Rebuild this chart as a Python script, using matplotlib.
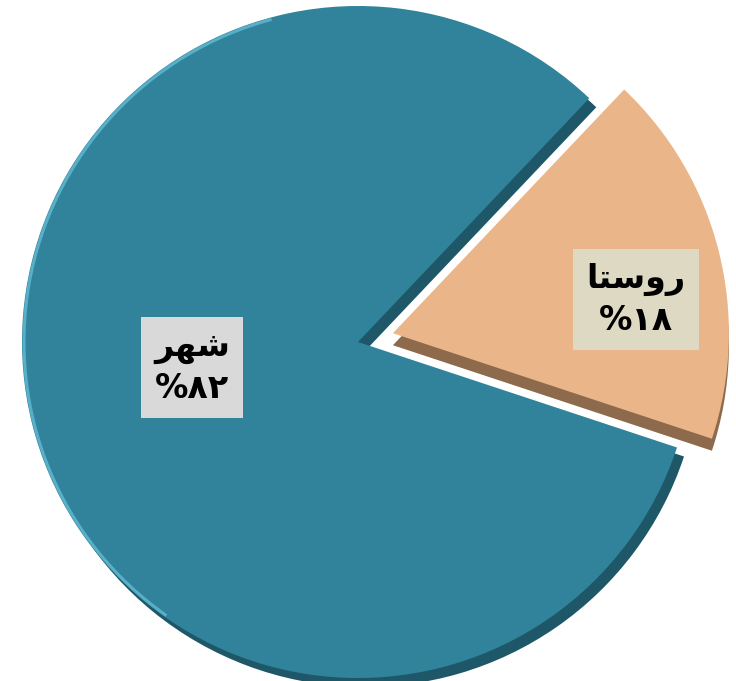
import matplotlib
matplotlib.use("Agg")
import matplotlib.pyplot as plt
from matplotlib.patches import Wedge, Arc

# Category names in Arabic presentation forms, laid out left-to-right,
# since matplotlib does not shape or reorder Arabic script itself.
categories = ["\uFE8E\uFE98\uFEB3\uFEED\uFEAD", "\uFEAE\uFEEC\uFEB7"]  # روستا , شهر
values = [18, 82]

face_colors = ["#EBB58A", "#30839A"]
side_colors = ["#8C6A4B", "#1E5868"]
label_boxes = ["#DDD9C3", "#D9D9D9"]

fa_digits = str.maketrans("0123456789", "۰۱۲۳۴۵۶۷۸۹")

W, H = 736, 681
fig = plt.figure(figsize=(W / 100, H / 100), dpi=100)
ax = fig.add_axes([0, 0, 1, 1])

cx, cy, R = 358, 339, 336
# pie's explode offset is in data units here (pixels)
wedges, _ = ax.pie(values, colors=face_colors, startangle=-18.3,
                   counterclock=True, explode=[36, 0],
                   center=(cx, cy), radius=R, frame=False)

# extruded side of each slice, drawn beneath the top face
offsets = [(0, -12), (7, -9)]
for w, sc, (dx, dy) in zip(wedges, side_colors, offsets):
    w.set_zorder(3)
    w.set_linewidth(0)
    side = Wedge((w.center[0] + dx, w.center[1] + dy), w.r,
                 w.theta1, w.theta2, facecolor=sc, edgecolor="none",
                 zorder=2)
    ax.add_patch(side)

# highlight along the upper-left rim of the large slice
big = wedges[1]
ax.add_patch(Arc(big.center, 2 * big.r - 4, 2 * big.r - 4, theta1=105,
                 theta2=235, color="#58AFC8", lw=2.2, zorder=4))

# value labels
label_pos = [(636, H - 300), (192, H - 368)]
for name, v, (lx, ly), bc in zip(categories, values, label_pos, label_boxes):
    txt = name + "\n%" + str(v).translate(fa_digits)
    ax.text(lx, ly, txt, ha="center", va="center", fontsize=24,
            fontweight="bold", family=["DejaVu Sans"], color="black",
            linespacing=1.3, zorder=6,
            bbox=dict(boxstyle="square,pad=0.4", fc=bc, ec="none"))

ax.set_xlim(0, W)
ax.set_ylim(0, H)
ax.set_aspect("equal")
ax.set_position([0, 0, 1, 1])
ax.axis("off")

fig.savefig("out.png", dpi=100, facecolor="white")
